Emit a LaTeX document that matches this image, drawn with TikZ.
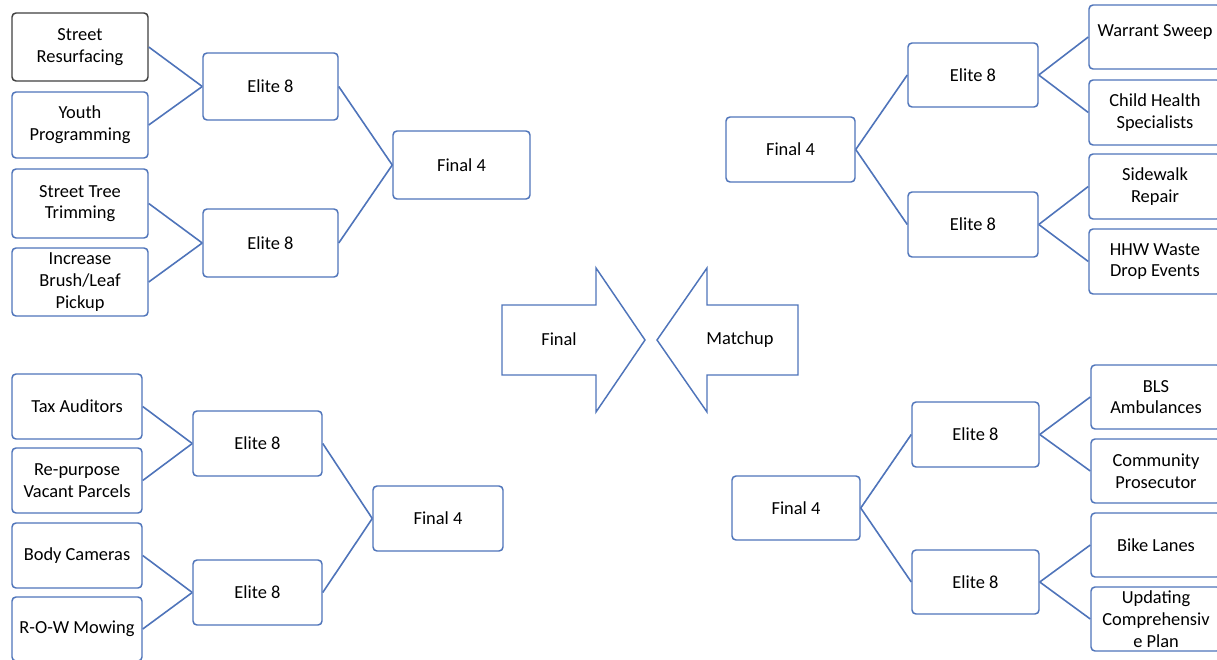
\documentclass[tikz,border=0pt]{standalone}
\usepackage{fontspec}
\setmainfont{Carlito}
\begin{document}
\begin{tikzpicture}[x=0.75pt,y=-0.75pt,
  every node/.style={font=\fontsize{13.8}{16.3}\selectfont, text=black},
  box/.style={draw=boxblue, line width=1.1pt, rounded corners=3pt, fill=white,
    align=center, inner sep=1pt},
  sz/.style 2 args={minimum width=#1*0.75pt, minimum height=#2*0.75pt},
  link/.style={draw=boxblue, line width=1.2pt},
  bigarrow/.style={draw=boxblue, line width=1.1pt, line join=miter, fill=white}]
\definecolor{boxblue}{HTML}{4F74BA}
\definecolor{boxgray}{HTML}{404040}
\useasboundingbox (0,0) rectangle (1217,660);
\clip (0,0) rectangle (1217,660);

% upper left bracket
\node[box, sz={136}{68}, draw=boxgray] (sr)  at (80,47)    {Street\\Resurfacing};
\node[box, sz={136}{66}] (yp)  at (80,125)   {Youth\\Programming};
\node[box, sz={136}{69}] (stt) at (80,203.5) {Street Tree\\Trimming};
\node[box, sz={136}{68}] (ibl) at (80,282)   {Increase\\Brush/Leaf\\Pickup};
\node[box, sz={135}{67}] (e1)  at (270.5,86.5) {Elite 8};
\node[box, sz={135}{68}] (e2)  at (270.5,243)  {Elite 8};
\node[box, sz={137}{68}] (f1)  at (461.5,165)  {Final 4};
\draw[link] (sr.east) -- (e1.west);
\draw[link] (yp.east) -- (e1.west);
\draw[link] (stt.east) -- (e2.west);
\draw[link] (ibl.east) -- (e2.west);
\draw[link] (e1.east) -- (f1.west);
\draw[link] (e2.east) -- (f1.west);

% upper right bracket
\node[box, sz={129}{65}] (f2)  at (790.5,149.5) {Final 4};
\node[box, sz={130}{64}] (e3)  at (973,75)      {Elite 8};
\node[box, sz={130}{65}] (e4)  at (973,224.5)   {Elite 8};
\node[box, sz={132}{64}, text depth=9pt] (ws)  at (1155,37) {Warrant Sweep};
\node[box, sz={132}{65}] (chs) at (1155,112.5)  {Child Health\\Specialists};
\node[box, sz={132}{65}] (swr) at (1155,186.5)  {Sidewalk\\Repair};
\node[box, sz={132}{65}] (hhw) at (1155,261.5)  {HHW Waste\\Drop Events};
\draw[link] (f2.east) -- (e3.west);
\draw[link] (f2.east) -- (e4.west);
\draw[link] (e3.east) -- (ws.west);
\draw[link] (e3.east) -- (chs.west);
\draw[link] (e4.east) -- (swr.west);
\draw[link] (e4.east) -- (hhw.west);

% lower left bracket
\node[box, sz={130}{65}] (ta)  at (77,406.5) {Tax Auditors};
\node[box, sz={130}{65}] (rvp) at (77,480.5) {Re-purpose\\Vacant Parcels};
\node[box, sz={130}{65}] (bc)  at (77,555.5) {Body Cameras};
\node[box, sz={130}{64}] (row) at (77,629)   {R-O-W Mowing};
\node[box, sz={129}{65}] (e5)  at (257.5,443.5) {Elite 8};
\node[box, sz={129}{65}] (e6)  at (257.5,592.5) {Elite 8};
\node[box, sz={130}{65}] (f3)  at (438,518.5)   {Final 4};
\draw[link] (ta.east) -- (e5.west);
\draw[link] (rvp.east) -- (e5.west);
\draw[link] (bc.east) -- (e6.west);
\draw[link] (row.east) -- (e6.west);
\draw[link] (e5.east) -- (f3.west);
\draw[link] (e6.east) -- (f3.west);

% lower right bracket
\node[box, sz={128}{64}] (f4)  at (796,508)    {Final 4};
\node[box, sz={127}{65}] (e7)  at (975.5,434.5) {Elite 8};
\node[box, sz={127}{64}] (e8)  at (975.5,582)   {Elite 8};
\node[box, sz={130}{64}] (bls) at (1156,397)   {BLS\\Ambulances};
\node[box, sz={130}{64}] (cp)  at (1156,471)   {Community\\Prosecutor};
\node[box, sz={130}{64}] (bl)  at (1156,545)   {Bike Lanes};
\node[box, sz={130}{64}] (ucp) at (1156,619)   {Updating\\Comprehensiv\\e Plan};
\draw[link] (f4.east) -- (e7.west);
\draw[link] (f4.east) -- (e8.west);
\draw[link] (e7.east) -- (bls.west);
\draw[link] (e7.east) -- (cp.west);
\draw[link] (e8.east) -- (bl.west);
\draw[link] (e8.east) -- (ucp.west);

% central block arrows
\draw[bigarrow] (502,305) -- (596,305) -- (596,268) -- (645,340)
  -- (596,412) -- (596,375) -- (502,375) -- cycle;
\draw[bigarrow] (798,305) -- (707,305) -- (707,268) -- (657,340)
  -- (707,412) -- (707,375) -- (798,375) -- cycle;
\node (fin) at (559,339) {Final};
\node[anchor=base] (mat) at (740,344) {Matchup};
\end{tikzpicture}
\end{document}
